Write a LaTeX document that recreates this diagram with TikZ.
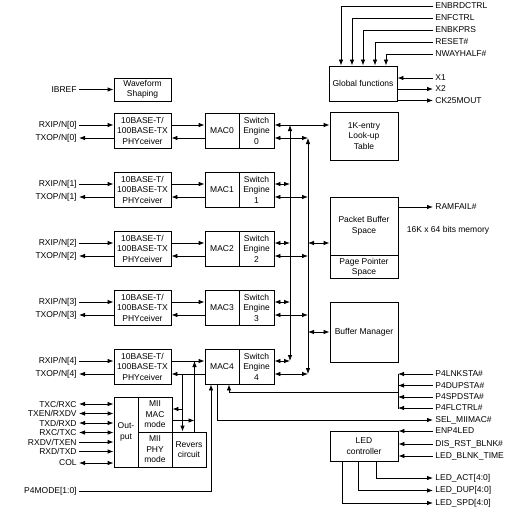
\documentclass[tikz,border=0pt]{standalone}
\usepackage{fontspec}
\setmainfont{Liberation Sans}
\usetikzlibrary{arrows.meta,calc}

\begin{document}
\begin{tikzpicture}[x=1pt,y=-1pt,line width=0.8pt,
  >={Latex[length=6pt,width=4.5pt]},
  font=\fontsize{8.5}{10.5}\selectfont,
  blk/.style={draw,align=center,inner sep=1pt},
  lft/.style={anchor=east,inner sep=2pt},
  rgt/.style={anchor=west,inner sep=2pt}]
\useasboundingbox (0,0) rectangle (524,516);
% global functions
\node[blk,minimum width=68,minimum height=35] (glob) at (363,83.5) {Global functions};
\node[rgt] (enbrd) at (433,6) {ENBRDCTRL};
\node[rgt] (enfc) at (433,18) {ENFCTRL};
\node[rgt] (enbk) at (433,30) {ENBKPRS};
\node[rgt] (rst) at (433,42) {RESET\#};
\node[rgt] (nway) at (433,54) {NWAYHALF\#};
\node[rgt] (xone) at (433,78) {X1};
\node[rgt] (xtwo) at (433,89) {X2};
\node[rgt] (ck) at (433,100.5) {CK25MOUT};
\draw[->] (enbrd) -| ([xshift=-22pt]glob.north);
\draw[->] (enfc) -| ([xshift=-11pt]glob.north);
\draw[->] (enbk) -| (glob.north);
\draw[->] (rst) -| ([xshift=12pt]glob.north);
\draw[->] (nway) -| ([xshift=23pt]glob.north);
\draw[->] (xone) -- (xone -| glob.east);
\draw[<-] (xtwo) -- (xtwo -| glob.east);
\draw[<-] (ck) -- (ck -| glob.east);
% waveform
\node[blk,minimum width=57,minimum height=23] (wave) at (142.5,89.5) {Waveform\\[-1pt]Shaping};
\node[lft] (ibref) at (79,89.5) {IBREF};
\draw[->] (ibref) -- (wave);
% port 0
\node[blk,minimum width=57,minimum height=35] (phy0) at (142.5,130.5) {10BASE-T/\\100BASE-TX\\PHYceiver};
\node[blk,minimum width=34,minimum height=35] (mac0) at (222,130.5) {MAC0};
\node[blk,minimum width=35,minimum height=35] (sw0) at (256.5,130.5) {Switch\\Engine\\0};
\node[lft] (rx0) at (79,125) {RXIP/N[0]}; \node[lft] (tx0) at (79,138) {TXOP/N[0]};
\draw[->] (rx0) -- (rx0 -| phy0.west); \draw[<-] (tx0) -- (tx0 -| phy0.west);
\draw[->] (phy0.east |- rx0) -- (mac0.west |- rx0); \draw[->] (mac0.west |- tx0) -- (phy0.east |- tx0);
% port 1
\node[blk,minimum width=57,minimum height=35] (phy1) at (142.5,189.5) {10BASE-T/\\100BASE-TX\\PHYceiver};
\node[blk,minimum width=34,minimum height=35] (mac1) at (222,189.5) {MAC1};
\node[blk,minimum width=35,minimum height=35] (sw1) at (256.5,189.5) {Switch\\Engine\\1};
\node[lft] (rx1) at (79,184) {RXIP/N[1]}; \node[lft] (tx1) at (79,197) {TXOP/N[1]};
\draw[->] (rx1) -- (rx1 -| phy1.west); \draw[<-] (tx1) -- (tx1 -| phy1.west);
\draw[->] (phy1.east |- rx1) -- (mac1.west |- rx1); \draw[->] (mac1.west |- tx1) -- (phy1.east |- tx1);
% port 2
\node[blk,minimum width=57,minimum height=35] (phy2) at (142.5,248.5) {10BASE-T/\\100BASE-TX\\PHYceiver};
\node[blk,minimum width=34,minimum height=35] (mac2) at (222,248.5) {MAC2};
\node[blk,minimum width=35,minimum height=35] (sw2) at (256.5,248.5) {Switch\\Engine\\2};
\node[lft] (rx2) at (79,243) {RXIP/N[2]}; \node[lft] (tx2) at (79,256) {TXOP/N[2]};
\draw[->] (rx2) -- (rx2 -| phy2.west); \draw[<-] (tx2) -- (tx2 -| phy2.west);
\draw[->] (phy2.east |- rx2) -- (mac2.west |- rx2); \draw[->] (mac2.west |- tx2) -- (phy2.east |- tx2);
% port 3
\node[blk,minimum width=57,minimum height=35] (phy3) at (142.5,307.5) {10BASE-T/\\100BASE-TX\\PHYceiver};
\node[blk,minimum width=34,minimum height=35] (mac3) at (222,307.5) {MAC3};
\node[blk,minimum width=35,minimum height=35] (sw3) at (256.5,307.5) {Switch\\Engine\\3};
\node[lft] (rx3) at (79,302) {RXIP/N[3]}; \node[lft] (tx3) at (79,315) {TXOP/N[3]};
\draw[->] (rx3) -- (rx3 -| phy3.west); \draw[<-] (tx3) -- (tx3 -| phy3.west);
\draw[->] (phy3.east |- rx3) -- (mac3.west |- rx3); \draw[->] (mac3.west |- tx3) -- (phy3.east |- tx3);
% port 4
\node[blk,minimum width=57,minimum height=35] (phy4) at (142.5,366.5) {10BASE-T/\\100BASE-TX\\PHYceiver};
\node[blk,minimum width=34,minimum height=35] (mac4) at (222,366.5) {MAC4};
\node[blk,minimum width=35,minimum height=35] (sw4) at (256.5,366.5) {Switch\\Engine\\4};
\node[lft] (rx4) at (79,361) {RXIP/N[4]}; \node[lft] (tx4) at (79,374) {TXOP/N[4]};
\draw[->] (rx4) -- (rx4 -| phy4.west); \draw[<-] (tx4) -- (tx4 -| phy4.west);
\draw[->] (phy4.east |- rx4) -- (mac4.west |- rx4); \draw[->] (mac4.west |- tx4) -- (phy4.east |- tx4);
% memory side
\node[blk,minimum width=68,minimum height=48] (lut) at (364,136) {1K-entry\\Look-up\\Table};
\node[blk,minimum width=68,minimum height=58] (pbuf) at (364,226) {Packet Buffer\\Space};
\node[blk,minimum width=68,minimum height=23,anchor=north] (ppsp) at (pbuf.south) {Page Pointer\\[-1pt]Space};
\node[blk,minimum width=68,minimum height=60] (bman) at (364,332) {Buffer Manager};
\node[rgt] (ramfail) at (433,207) {RAMFAIL\#};
\node (mem) at (448,230) {16K x 64 bits memory};
\draw[->] (pbuf.east |- ramfail) -- (ramfail);
% buses
\coordinate (bone) at (290,0); \coordinate (btwo) at (308,0);
\draw[<->] (bone |- rx0) -- (bone |- rx4);
\draw[<->] (btwo |- tx0) -- (btwo |- tx4);
\draw[<->] (sw0.east |- rx0) -- (lut.west |- rx0);
\draw[<->] (sw0.east |- tx0) -- (btwo |- tx0);
\draw[<->] (sw1.east |- rx1) -- (bone |- rx1); \draw[<->] (sw1.east |- tx1) -- (btwo |- tx1);
\draw[<->] (sw2.east |- rx2) -- (bone |- rx2); \draw[<->] (sw2.east |- tx2) -- (btwo |- tx2);
\draw[<->] (sw3.east |- rx3) -- (bone |- rx3); \draw[<->] (sw3.east |- tx3) -- (btwo |- tx3);
\draw[<->] (sw4.east |- rx4) -- (bone |- rx4); \draw[<->] (sw4.east |- tx4) -- (btwo |- tx4);
\draw[<->] (btwo |- 0,243) -- (pbuf.west |- 0,243);
\draw[<->] (btwo |- bman) -- (bman);
% port 4 status and mode
\node[rgt] (lnk) at (433,374) {P4LNKSTA\#};
\node[rgt] (dup) at (433,385.5) {P4DUPSTA\#};
\node[rgt] (spd) at (433,397) {P4SPDSTA\#};
\node[rgt] (flc) at (433,408) {P4FLCTRL\#};
\node[rgt] (selmii) at (433,420) {SEL\_MIIMAC\#};
\coordinate (brt) at (398,374); \coordinate (brb) at (398,409);
\draw (brt) -- (brb);
\draw[->] (lnk) -- (lnk -| brt); \draw[->] (dup) -- (dup -| brt);
\draw[->] (spd) -- (spd -| brt); \draw[->] (flc) -- (flc -| brt);
\draw[->] (brt |- 0,392) -| ([xshift=7pt]mac4.south);
\draw[->] ([xshift=-5pt]mac4.south) |- (selmii);
\node[lft] (p4mode) at (79,491) {P4MODE[1:0]};
\draw[->] (p4mode) -| ([xshift=-11pt]mac4.south);
% LED
\node[blk,minimum width=68,minimum height=30] (led) at (364,446) {LED\\controller};
\node[rgt] (enled) at (433,431) {ENP4LED};
\node[rgt] (disrst) at (433,444) {DIS\_RST\_BLNK\#};
\node[rgt] (blnk) at (433,456) {LED\_BLNK\_TIME};
\node[rgt] (ledact) at (433,478) {LED\_ACT[4:0]};
\node[rgt] (leddup) at (433,490.5) {LED\_DUP[4:0]};
\node[rgt] (ledspd) at (433,503) {LED\_SPD[4:0]};
\draw[->] (enled) -- (enled -| led.east); \draw[->] (disrst) -- (disrst -| led.east);
\draw[->] (blnk) -- (blnk -| led.east);
\draw[->] ([xshift=12pt]led.south) |- (ledact);
\draw[->] ([xshift=-6pt]led.south) |- (leddup);
\draw[->] ([xshift=-22pt]led.south) |- (ledspd);
% MII block
\node[blk,minimum width=24,minimum height=70] (outp) at (126,432) {Out-\\put};
\node[blk,minimum width=34,minimum height=35] (miimac) at (155,414.5) {MII\\MAC\\mode};
\node[blk,minimum width=34,minimum height=35] (miiphy) at (155,449.5) {MII\\PHY\\mode};
\node[blk,minimum width=34,minimum height=35] (rev) at (189,449.5) {Revers\\circuit};
\node[lft] (txc) at (79,404) {TXC/RXC};
\node[lft] (txen) at (79,413.5) {TXEN/RXDV};
\node[lft] (txd) at (79,423) {TXD/RXD};
\node[lft] (rxc) at (79,432.5) {RXC/TXC};
\node[lft] (rxdv) at (79,442) {RXDV/TXEN};
\node[lft] (rxd) at (79,451.5) {RXD/TXD};
\node[lft] (col) at (79,463) {COL};
\draw[<->] (txc) -- (txc -| outp.west); \draw[<->] (txen) -- (txen -| outp.west);
\draw[<->] (txd) -- (txd -| outp.west); \draw[<->] (rxc) -- (rxc -| outp.west);
\draw[->] (rxdv) -- (rxdv -| outp.west); \draw[->] (rxd) -- (rxd -| outp.west);
\draw[<->] (col) -- (col -| outp.west);
\coordinate (tapa) at (182.5,0); \coordinate (tapb) at (194.5,0);
\draw[->] (tapa |- tx4) -- (tapa |- rev.north);
\draw[->] (tapa |- 0,409) -- (miimac.east |- 0,409);
\draw[->] (tapb |- rev.north) -- (tapb |- rx4);
\draw[->] (miimac.east |- 0,420.5) -- (tapb |- 0,420.5);
\end{tikzpicture}
\end{document}
